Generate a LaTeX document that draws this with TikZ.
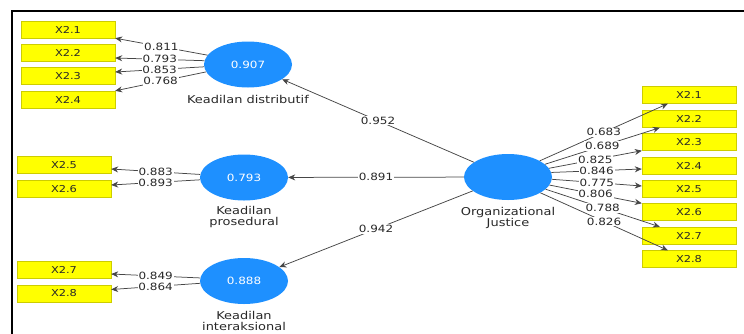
\documentclass[tikz,border=0pt]{standalone}
\usepackage{fontspec}
\newfontfamily\lblfont[FakeStretch=1.2]{DejaVu Sans}
\newcommand\mylblf{\lblfont\fontsize{10}{11}\selectfont}
\newcommand\mycapf{\lblfont\fontsize{10.8}{11}\selectfont}
\newcommand\myboxf{\lblfont\fontsize{9.5}{11}\selectfont}
\usetikzlibrary{shapes.geometric,arrows.meta,calc}
\definecolor{lvblue}{RGB}{30,144,255}
\definecolor{boxyellow}{RGB}{255,255,0}
\definecolor{boxedge}{RGB}{205,205,0}
\definecolor{linegray}{RGB}{70,70,70}
\definecolor{txtgray}{RGB}{40,40,40}
\begin{document}
\begin{tikzpicture}[x=1pt,y=-1pt,
  ind/.style={draw=boxedge, fill=boxyellow, minimum width=94pt, minimum height=17pt, inner sep=0pt, font=\myboxf, text=txtgray},
  lv/.style={ellipse, fill=lvblue, minimum width=88pt, minimum height=46pt, inner sep=0pt, font=\mylblf, text=white},
  captxt/.style={font=\mycapf, align=center, text=txtgray, inner sep=0pt},
  arr/.style={draw=linegray, line width=0.75pt, -{Stealth[length=7pt,width=6pt]}},
  lbl/.style={fill=white, inner sep=0.8pt, font=\mylblf, text=txtgray}]
\useasboundingbox (0,0) rectangle (744,333);
\draw[line width=2pt] (12,334) -- (12,11) -- (744,11);

% left indicators
\node[ind] (a1) at (68,29.5) {X2.1};
\node[ind] (a2) at (68,52.5) {X2.2};
\node[ind] (a3) at (68,76) {X2.3};
\node[ind] (a4) at (68,99.5) {X2.4};
\node[ind] (b5) at (64,165) {X2.5};
\node[ind] (b6) at (64,189) {X2.6};
\node[ind] (c7) at (64,270) {X2.7};
\node[ind] (c8) at (64,293.5) {X2.8};

% right indicators
\node[ind] (r1) at (689,95) {X2.1};
\node[ind] (r2) at (689,119) {X2.2};
\node[ind] (r3) at (689,142) {X2.3};
\node[ind] (r4) at (689,165.5) {X2.4};
\node[ind] (r5) at (689,189) {X2.5};
\node[ind] (r6) at (689,212) {X2.6};
\node[ind] (r7) at (689,235.5) {X2.7};
\node[ind] (r8) at (689,259) {X2.8};

% latent variables
\node[lv] (dist) at (248,64.5) {0.907};
\node[lv] (pros) at (244,177.5) {0.793};
\node[lv] (inter) at (244,281) {0.888};
\node[lv] (org) at (508,177) {};

\node[captxt] (capd) at (248,99) {Keadilan distributif};
\node[captxt] (capp) at (244,217.5) {Keadilan\\prosedural};
\node[captxt] (capi) at (244,320.5) {Keadilan\\interaksional};
\node[captxt] (capo) at (508,218) {Organizational\\Justice};

% loadings left
\draw[arr] (dist.167) -- node[lbl]{0.811} (a1.south east);
\draw[arr] (dist.175) -- node[lbl]{0.793} ($(a2.east)+(0,5.5)$);
\draw[arr] (dist.183) -- node[lbl]{0.853} ($(a3.east)+(0,-4)$);
\draw[arr] (dist.190) -- node[lbl]{0.768} (a4.north east);
\draw[arr] (pros.176) -- node[lbl]{0.883} ($(b5.east)+(0,4)$);
\draw[arr] (pros.183) -- node[lbl]{0.893} ($(b6.east)+(0,-4)$);
\draw[arr] (inter.176) -- node[lbl]{0.849} ($(c7.east)+(0,4)$);
\draw[arr] (inter.183) -- node[lbl]{0.864} ($(c8.east)+(0,-4)$);

% structural paths
\draw[arr] (org) -- node[lbl]{0.952} (dist);
\draw[arr] (org) -- node[lbl]{0.891} (pros);
\draw[arr] (org) -- node[lbl]{0.942} (inter);

% loadings right
\draw[arr] (org.27) -- node[lbl]{0.683} ($(r1.south west)+(26,0)$);
\draw[arr] (org.19) -- node[lbl]{0.689} ($(r2.south west)+(18,0)$);
\draw[arr] (org.12) -- node[lbl]{0.825} (r3.south west);
\draw[arr] (org.6) -- node[lbl]{0.846} ($(r4.west)+(0,3.5)$);
\draw[arr] (org.-3) -- node[lbl]{0.775} ($(r5.west)+(0,-3)$);
\draw[arr] (org.-11) -- node[lbl]{0.806} (r6.north west);
\draw[arr] (org.-18) -- node[lbl]{0.788} ($(r7.north west)+(18,0)$);
\draw[arr] (org.-26) -- node[lbl]{0.826} ($(r8.north west)+(26,0)$);
\end{tikzpicture}
\end{document}
